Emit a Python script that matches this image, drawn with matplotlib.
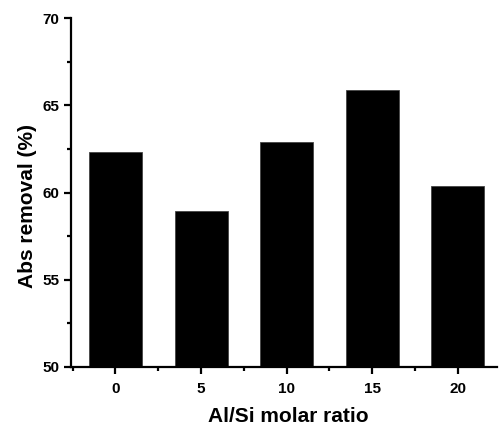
import matplotlib
matplotlib.use("Agg")
import matplotlib.pyplot as plt
from matplotlib.ticker import MultipleLocator

ratios = [0, 5, 10, 15, 20]
removal = [62.32, 58.93, 62.89, 65.90, 60.36]
tick_labels = ["0", "5", "10", "15", "20"]

plt.rcParams['font.family'] = ['Liberation Sans', 'DejaVu Sans']
fig = plt.figure(figsize=(5.01, 4.29), dpi=100)
ax = fig.add_axes([71/501, 1 - 366.7/429, (497-71)/501, (366.7-18.3)/429])

ax.bar(ratios, removal, width=3.1, color='black', edgecolor='#444444', linewidth=0.6)

ax.set_xlim(-2.6, 22.3)
ax.set_ylim(50, 70)
ax.set_xticks(ratios)
ax.set_xticklabels(tick_labels)
ax.xaxis.set_minor_locator(MultipleLocator(2.5))
ax.yaxis.set_major_locator(MultipleLocator(5))
ax.yaxis.set_minor_locator(MultipleLocator(2.5))

for s in ['top', 'right']:
    ax.spines[s].set_visible(False)
for s in ['left', 'bottom']:
    ax.spines[s].set_linewidth(1.6)

ax.tick_params(which='major', direction='out', length=5, width=1.6, labelsize=11)
ax.tick_params(axis='x', which='major', pad=6)
ax.tick_params(which='minor', direction='out', length=3, width=1.6)
for lab in ax.get_xticklabels() + ax.get_yticklabels():
    lab.set_fontweight('bold')

ax.set_xlabel('Al/Si molar ratio', fontsize=15, fontweight='bold')
ax.set_ylabel('Abs removal (%)', fontsize=15, fontweight='bold')
ax.xaxis.set_label_coords((288-71)/(497-71), -(417-366.7)/(366.7-18.3))
ax.yaxis.set_label_coords(-(71-28)/(497-71), (366.7-206)/(366.7-18.3))
ax.xaxis.label.set_va('center')
ax.yaxis.label.set_va('center')

fig.savefig('out.png', dpi=100)
